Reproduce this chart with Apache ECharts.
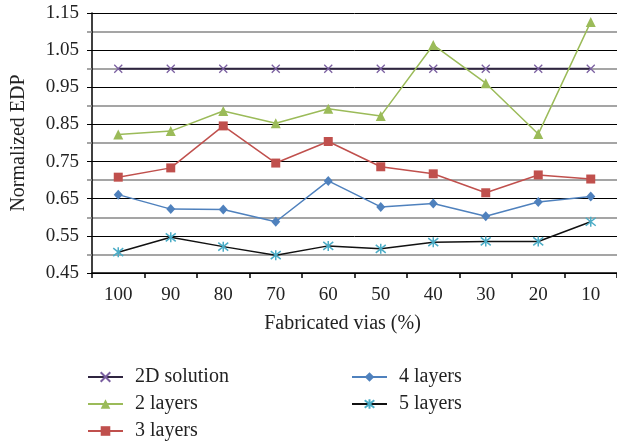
<!DOCTYPE html>
<html>
<head>
<meta charset="utf-8">
<script src="https://cdn.jsdelivr.net/npm/echarts@6/dist/echarts.min.js"></script>
<style>html,body{margin:0;padding:0;background:#fff}#c{width:617px;height:442px}</style>
</head>
<body>
<div id="c"></div>
<script>
const categories = ['100','90','80','70','60','50','40','30','20','10'];
const solution2D = [1.00,1.00,1.00,1.00,1.00,1.00,1.00,1.00,1.00,1.00];
const layers2 = [0.823,0.832,0.886,0.853,0.892,0.873,1.064,0.961,0.824,1.126];
const layers3 = [0.708,0.733,0.846,0.746,0.804,0.736,0.717,0.666,0.714,0.703];
const layers4 = [0.661,0.622,0.621,0.588,0.698,0.628,0.637,0.603,0.641,0.656];
const layers5 = [0.506,0.546,0.521,0.498,0.523,0.515,0.533,0.535,0.535,0.588];
const yTicks = [0.45,0.55,0.65,0.75,0.85,0.95,1.05,1.15];

const FONT = 'Liberation Serif';
const xPath = 'path://M0 0 L10 10 M10 0 L0 10';
const starPath = 'path://M1 1 L9 9 M9 1 L1 9 M5 0 L5 10';

const chart = echarts.init(document.getElementById('c'), null, {renderer: 'canvas'});
const legendBase = {
  orient: 'vertical', top: 367, height: 75, padding: 0,
  itemWidth: 35, itemHeight: 12, itemGap: 7,
  textStyle: {fontFamily: FONT, fontSize: 20, color: '#222', lineHeight: 20, padding: [0, 0, 0, 7]}
};
chart.setOption({
  animation: false,
  backgroundColor: '#fff',
  grid: {left: 92, right: 0, top: 13, bottom: 169, containLabel: false},
  xAxis: {
    type: 'category',
    data: categories,
    boundaryGap: true,
    name: 'Fabricated vias (%)',
    nameLocation: 'middle',
    nameGap: 41,
    nameTextStyle: {fontFamily: FONT, fontSize: 20, color: '#222', padding: [0, 24, 0, 0]},
    axisLine: {lineStyle: {color: '#000', width: 1.5}},
    axisTick: {show: true, alignWithLabel: false, length: 5, lineStyle: {color: '#000', width: 1.5}},
    axisLabel: {fontFamily: FONT, fontSize: 19, color: '#222', margin: 13},
    splitLine: {show: false}
  },
  yAxis: {
    type: 'value',
    min: yTicks[0],
    max: yTicks[yTicks.length - 1],
    interval: 0.1,
    name: 'Normalized EDP',
    nameLocation: 'middle',
    nameGap: 63,
    nameTextStyle: {fontFamily: FONT, fontSize: 20, color: '#222'},
    axisLine: {show: true, lineStyle: {color: '#000', width: 1.5}},
    axisTick: {show: true, length: 5, lineStyle: {color: '#000', width: 1}},
    minorTick: {show: true, splitNumber: 2, length: 5, lineStyle: {color: '#888', width: 1.5}},
    axisLabel: {fontFamily: FONT, fontSize: 19, color: '#222', margin: 13,
      formatter: v => v.toFixed(2)},
    splitLine: {show: true, lineStyle: {color: '#000', width: 1}},
    minorSplitLine: {show: true, lineStyle: {color: '#888', width: 1.5}}
  },
  legend: [
    Object.assign({}, legendBase, {left: 87, data: ['2D solution', '2 layers', '3 layers']}),
    Object.assign({}, legendBase, {left: 351, data: ['4 layers', '5 layers']})
  ],
  series: [
    {
      name: '2D solution', type: 'line', data: solution2D,
      symbol: xPath, symbolSize: 8,
      lineStyle: {color: '#2f2540', width: 2},
      itemStyle: {color: 'transparent', borderColor: '#7a5fa0', borderWidth: 1.3},
      z: 2
    },
    {
      name: '2 layers', type: 'line', data: layers2,
      symbol: 'triangle', symbolSize: 10,
      lineStyle: {color: '#9bbb59', width: 1.5},
      itemStyle: {color: '#9bbb59'}
    },
    {
      name: '3 layers', type: 'line', data: layers3,
      symbol: 'rect', symbolSize: 9,
      lineStyle: {color: '#c0504d', width: 1.5},
      itemStyle: {color: '#c0504d'}
    },
    {
      name: '4 layers', type: 'line', data: layers4,
      symbol: 'diamond', symbolSize: [9, 10],
      lineStyle: {color: '#4f81bd', width: 1.5},
      itemStyle: {color: '#4f81bd'}
    },
    {
      name: '5 layers', type: 'line', data: layers5,
      symbol: starPath, symbolSize: 10,
      lineStyle: {color: '#111', width: 1.5},
      itemStyle: {color: 'transparent', borderColor: '#4bacc6', borderWidth: 1.5}
    }
  ]
});
</script>
</body>
</html>
